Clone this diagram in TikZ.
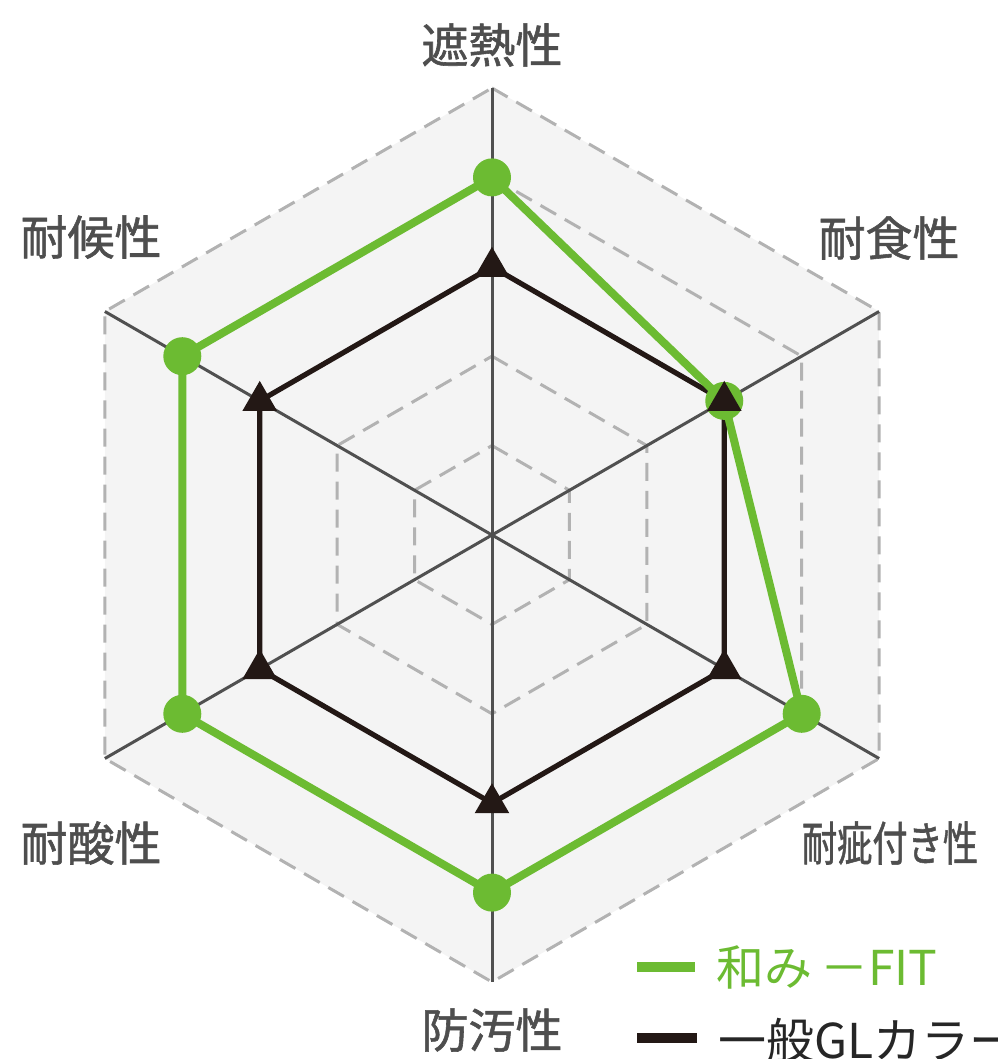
\documentclass[tikz,border=0pt]{standalone}
\usepackage{fontspec}
\usepackage{tikz}
\usetikzlibrary{shapes.geometric}
\newfontfamily\jpfont[FakeBold=1.2]{Noto Sans CJK JP}
\newfontfamily\jpkeyfont{Noto Sans CJK JP}
\definecolor{wagreen}{RGB}{108,187,50}
\definecolor{axisgray}{RGB}{80,80,80}
\definecolor{gridgray}{RGB}{178,178,178}
\definecolor{labelgray}{RGB}{78,78,78}
\definecolor{panelgray}{RGB}{244,244,244}
\definecolor{glblack}{RGB}{35,24,21}
\newcommand{\lev}{89.4}
\newcommand{\outr}{447}

\begin{document}
\begin{tikzpicture}[x=0.5pt,y=0.5pt]
            %\draw[help lines] (-500,-500) grid (500,500);
            \tikzset{gridline/.style={draw=gridgray, line width=1.5pt, dash pattern=on 9pt off 5pt},
                     axisline/.style={draw=axisgray, line width=1.5pt},
                     fitline/.style={draw=wagreen, line width=4pt, line join=round},
                     glline/.style={draw=glblack, line width=2.6pt, line join=round},
                     fitdot/.style={circle, fill=wagreen, minimum size=19pt, inner sep=0pt},
                     gltri/.style={regular polygon, regular polygon sides=3, fill=glblack, minimum size=20pt, inner sep=0pt},
                     axislabel/.style={text=labelgray, font=\jpfont\fontsize{23.5}{24}\selectfont, inner sep=0pt},
                     keylabel/.style={anchor=west, font=\jpkeyfont\fontsize{24}{24}\selectfont, inner sep=0pt}}
            \useasboundingbox (-492,-524) rectangle (505,535);
            \coordinate (ctr) at (0,0);
            \foreach \ang/\f/\g [count=\i] in {90/4/3, 30/3/3, -30/4/3, -90/4/3, -150/4/3, 150/4/3} {
                \coordinate (ax\i) at (\ang:\outr);
                \coordinate (fit\i) at (\ang:{\f*\lev});
                \coordinate (gl\i) at (\ang:{\g*\lev});
            }
            \fill[panelgray] (ax1) -- (ax2) -- (ax3) -- (ax4) -- (ax5) -- (ax6) -- cycle;
            \foreach \k in {1,...,5}
                \draw[gridline] (90:{\k*\lev}) -- (30:{\k*\lev}) -- (-30:{\k*\lev}) -- (-90:{\k*\lev}) -- (-150:{\k*\lev}) -- (150:{\k*\lev}) -- cycle;
            \foreach \i in {1,...,6}
                \draw[axisline] (ctr) -- (ax\i);
            % series
            \draw[glline] (gl1) -- (gl2) -- (gl3) -- (gl4) -- (gl5) -- (gl6) -- cycle;
            \draw[fitline] (fit1) -- (fit2) -- (fit3) -- (fit4) -- (fit5) -- (fit6) -- cycle;
            \foreach \i in {1,...,6} {
                \node[fitdot] (fitpt\i) at (fit\i) {};
                \node[gltri] (glpt\i) at (gl\i) {};
            }
            % axis labels
            \node[axislabel] (lblheat) at (0,490) {遮熱性};
            \node[axislabel] (lblcorr) at (397,297) {耐食性};
            \node[axislabel] (lblscratch) at (398,-308) {\scalebox{0.75}[1]{耐疵付き性}};
            \node[axislabel] (lblstain) at (0,-495) {防汚性};
            \node[axislabel] (lblacid) at (-401,-308) {耐酸性};
            \node[axislabel] (lblweather) at (-401,298) {耐候性};
            % legend
            \coordinate (fitkeyA) at (145,-432);
            \coordinate (fitkeyB) at (203,-432);
            \draw[draw=wagreen, line width=5pt] (fitkeyA) -- (fitkeyB);
            \node[keylabel, text=wagreen] (fitkey) at (224,-432) {和み\,－FIT};
            \coordinate (glkeyA) at (145,-503);
            \coordinate (glkeyB) at (205,-503);
            \draw[draw=glblack, line width=5pt] (glkeyA) -- (glkeyB);
            \node[keylabel, text=black!85] (glkey) at (226,-505) {一般GLカラー};
        \end{tikzpicture}
\end{document}
